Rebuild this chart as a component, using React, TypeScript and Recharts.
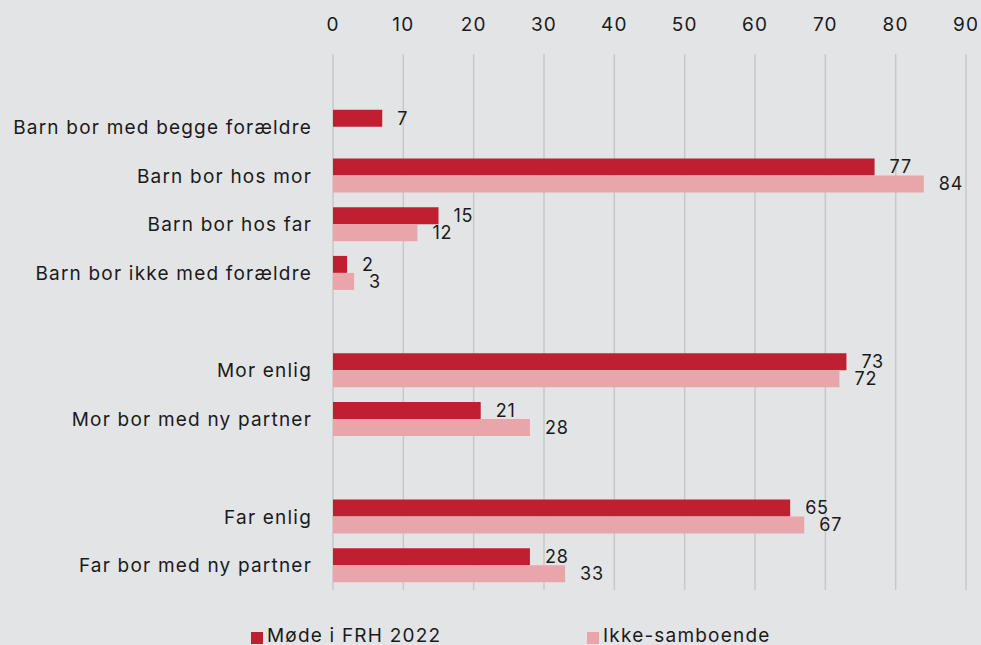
import React from "react";
import { BarChart, Bar, XAxis, YAxis, CartesianGrid, Legend, LabelList } from "recharts";

const categories = [
  " ",
  "Barn bor med begge forældre",
  "Barn bor hos mor",
  "Barn bor hos far",
  "Barn bor ikke med forældre",
  "  ",
  "Mor enlig",
  "Mor bor med ny partner",
  "   ",
  "Far enlig",
  "Far bor med ny partner",
];
const modeValues: (number | null)[] = [null, 7, 77, 15, 2, null, 73, 21, null, 65, 28];
const ikkeValues: (number | null)[] = [null, null, 84, 12, 3, null, 72, 28, null, 67, 33];
const xTicks = [0, 10, 20, 30, 40, 50, 60, 70, 80, 90];
const seriesNames = ["Møde i FRH 2022", "Ikke-samboende"];

const RED = "#c01f31";
const PINK = "#e8a6ab";
const FONT = "Inter, 'Noto Sans', sans-serif";
const LS = 1.2;

const data = categories.map((name, i) => ({ name, mode: modeValues[i], ikke: ikkeValues[i] }));

const renderLegend = () => (
  <div style={{ position: "relative", height: 55, fontFamily: FONT, fontSize: 19, letterSpacing: LS, color: "#1a1a1a" }}>
    {[{ c: RED, l: seriesNames[0], x: 251 }, { c: PINK, l: seriesNames[1], x: 587 }].map((it) => (
      <div key={it.l} style={{ position: "absolute", left: it.x, top: 35, display: "flex", alignItems: "flex-start", whiteSpace: "nowrap", lineHeight: "22px" }}>
        <span style={{ display: "inline-block", width: 12, height: 12, background: it.c, marginRight: 4, marginTop: 7 }} />
        <span>{it.l}</span>
      </div>
    ))}
  </div>
);

export default function App() {
  return (
    <div style={{ width: 981, height: 645, background: "#e3e4e6", overflow: "hidden" }}>
      <style>{"body{margin:0;}"}</style>
      <BarChart
        width={981}
        height={645}
        data={data}
        layout="vertical"
        margin={{ top: 0, right: 15, bottom: 0, left: 0 }}
        barGap={0}
      >
        <CartesianGrid horizontal={false} vertical stroke="#c8c8c8" strokeWidth={1.5} />
        <XAxis
          type="number"
          orientation="top"
          domain={[0, 90]}
          ticks={xTicks}
          interval={0}
          height={54}
          axisLine={false}
          tickLine={false}
          tickSize={0}
          tickMargin={23}
          tick={{ fill: "#1a1a1a", fontSize: 19, fontFamily: FONT, letterSpacing: LS }}
        />
        <YAxis
          type="category"
          dataKey="name"
          width={333}
          interval={0}
          axisLine={false}
          tickLine={false}
          tickSize={0}
          tickMargin={21}
          tick={{ fill: "#1a1a1a", fontSize: 19, fontFamily: FONT, letterSpacing: LS }}
        />
        <Legend verticalAlign="bottom" height={55} content={renderLegend} />
        <Bar dataKey="mode" name={seriesNames[0]} fill={RED} barSize={17} isAnimationActive={false}>
          <LabelList dataKey="mode" position="right" offset={15} fill="#1a1a1a" fontSize={18} fontFamily={FONT} letterSpacing={0.8} />
        </Bar>
        <Bar dataKey="ikke" name={seriesNames[1]} fill={PINK} barSize={17} isAnimationActive={false}>
          <LabelList dataKey="ikke" position="right" offset={15} fill="#1a1a1a" fontSize={18} fontFamily={FONT} letterSpacing={0.8} />
        </Bar>
      </BarChart>
    </div>
  );
}
